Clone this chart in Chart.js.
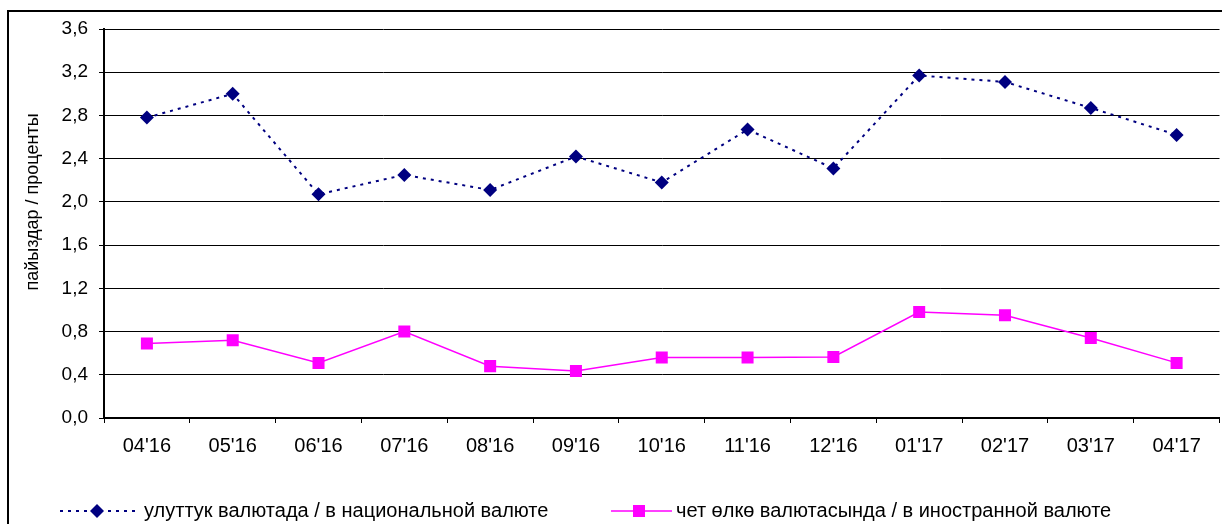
<!DOCTYPE html>
<html>
<head>
<meta charset="utf-8">
<script src="https://cdn.jsdelivr.net/npm/chart.js@4/dist/chart.umd.min.js"></script>
<style>
  html, body { margin: 0; padding: 0; background: #fff; overflow: hidden; }
  canvas { display: block; }
</style>
</head>
<body>
<canvas id="rateChart" width="1228" height="524"></canvas>
<script>
// Data
const months = ["04'16", "05'16", "06'16", "07'16", "08'16", "09'16", "10'16", "11'16", "12'16", "01'17", "02'17", "03'17", "04'17"];
const nationalCurrency = [2.78, 3.00, 2.07, 2.25, 2.11, 2.42, 2.18, 2.67, 2.31, 3.17, 3.11, 2.87, 2.62];
const foreignCurrency = [0.69, 0.72, 0.51, 0.80, 0.48, 0.435, 0.56, 0.56, 0.565, 0.98, 0.95, 0.74, 0.51];
const yTicks = [0, 0.4, 0.8, 1.2, 1.6, 2.0, 2.4, 2.8, 3.2, 3.6];

const nationalLabel = 'улуттук валютада / в национальной валюте';
const foreignLabel = 'чет өлкө валютасында / в иностранной валюте';
const yTitle = 'пайыздар / проценты';

const FONT = "'Liberation Sans', Arial, sans-serif";

// Frame, y title and legend are drawn by hand to match the Excel look
const decorPlugin = {
  id: 'decor',
  afterDraw(chart) {
    const c = chart.ctx;
    c.save();
    // outer frame (cut off at right/bottom in the reference)
    c.strokeStyle = '#000';
    c.lineWidth = 2;
    c.beginPath();
    c.moveTo(8, 530);
    c.lineTo(8, 11);
    c.lineTo(1240, 11);
    c.stroke();

    // y axis title
    c.fillStyle = '#000';
    c.font = '18px ' + FONT;
    c.textAlign = 'center';
    c.textBaseline = 'middle';
    c.translate(33, 202);
    c.rotate(-Math.PI / 2);
    c.fillText(yTitle, 0, 0);
    c.restore();

    // legend
    const ds = chart.data.datasets;
    const ly = 511;
    c.save();
    c.font = '20px ' + FONT;
    c.textBaseline = 'middle';
    c.textAlign = 'left';

    // national: dotted line with diamond
    c.strokeStyle = ds[0].borderColor;
    c.lineWidth = 2;
    c.setLineDash(ds[0].borderDash);
    c.beginPath();
    c.moveTo(60, ly);
    c.lineTo(137, ly);
    c.stroke();
    c.setLineDash([]);
    c.fillStyle = ds[0].pointBackgroundColor;
    c.beginPath();
    c.moveTo(97, ly - 7); c.lineTo(104, ly); c.lineTo(97, ly + 7); c.lineTo(90, ly); c.closePath();
    c.fill();
    c.fillStyle = '#000';
    c.fillText(nationalLabel, 144, ly);

    // foreign: solid line with square
    c.strokeStyle = ds[1].borderColor;
    c.lineWidth = 1.5;
    c.beginPath();
    c.moveTo(611, ly);
    c.lineTo(672, ly);
    c.stroke();
    c.fillStyle = ds[1].pointBackgroundColor;
    c.fillRect(633, ly - 6, 12, 12);
    c.fillStyle = '#000';
    c.fillText(foreignLabel, 676, ly);
    c.restore();
  }
};

const ctx = document.getElementById('rateChart').getContext('2d');
const chart = new Chart(ctx, {
  type: 'line',
  data: {
    labels: months,
    datasets: [
      {
        label: nationalLabel,
        data: nationalCurrency,
        borderColor: '#000080',
        backgroundColor: '#000080',
        pointBackgroundColor: '#000080',
        pointBorderColor: '#000080',
        borderWidth: 2,
        borderDash: [3, 5],
        pointStyle: 'rectRot',
        pointRadius: 7,
        pointBorderWidth: 0,
        tension: 0,
        fill: false
      },
      {
        label: foreignLabel,
        data: foreignCurrency,
        borderColor: '#FF00FF',
        backgroundColor: '#FF00FF',
        pointBackgroundColor: '#FF00FF',
        pointBorderColor: '#FF00FF',
        borderWidth: 1.5,
        pointStyle: 'rect',
        pointRadius: 8.5,
        pointBorderWidth: 0,
        tension: 0,
        fill: false
      }
    ]
  },
  options: {
    responsive: false,
    devicePixelRatio: 1,
    animation: false,
    layout: {
      padding: { left: 0, right: 3, top: 29, bottom: 0 }
    },
    plugins: {
      legend: { display: false },
      tooltip: { enabled: false }
    },
    scales: {
      x: {
        type: 'category',
        offset: true,
        grid: {
          offset: true,
          drawOnChartArea: false,
          color: '#000',
          tickLength: 5,
          lineWidth: 1
        },
        border: { color: '#000', width: 2 },
        ticks: {
          color: '#000',
          font: { family: FONT, size: 20 },
          padding: 11,
          maxRotation: 0,
          autoSkip: false
        },
        afterFit(scale) { scale.height = 106; }
      },
      y: {
        min: 0,
        max: 3.6,
        afterBuildTicks(scale) {
          scale.ticks = yTicks.map(v => ({ value: v }));
        },
        grid: {
          color: '#000',
          lineWidth: 1,
          tickLength: 5
        },
        border: { color: '#000', width: 2 },
        ticks: {
          color: '#000',
          font: { family: FONT, size: 19 },
          padding: 11,
          callback: v => v.toFixed(1).replace('.', ',')
        },
        afterFit(scale) { scale.width = 104; }
      }
    }
  },
  plugins: [decorPlugin]
});
</script>
</body>
</html>
